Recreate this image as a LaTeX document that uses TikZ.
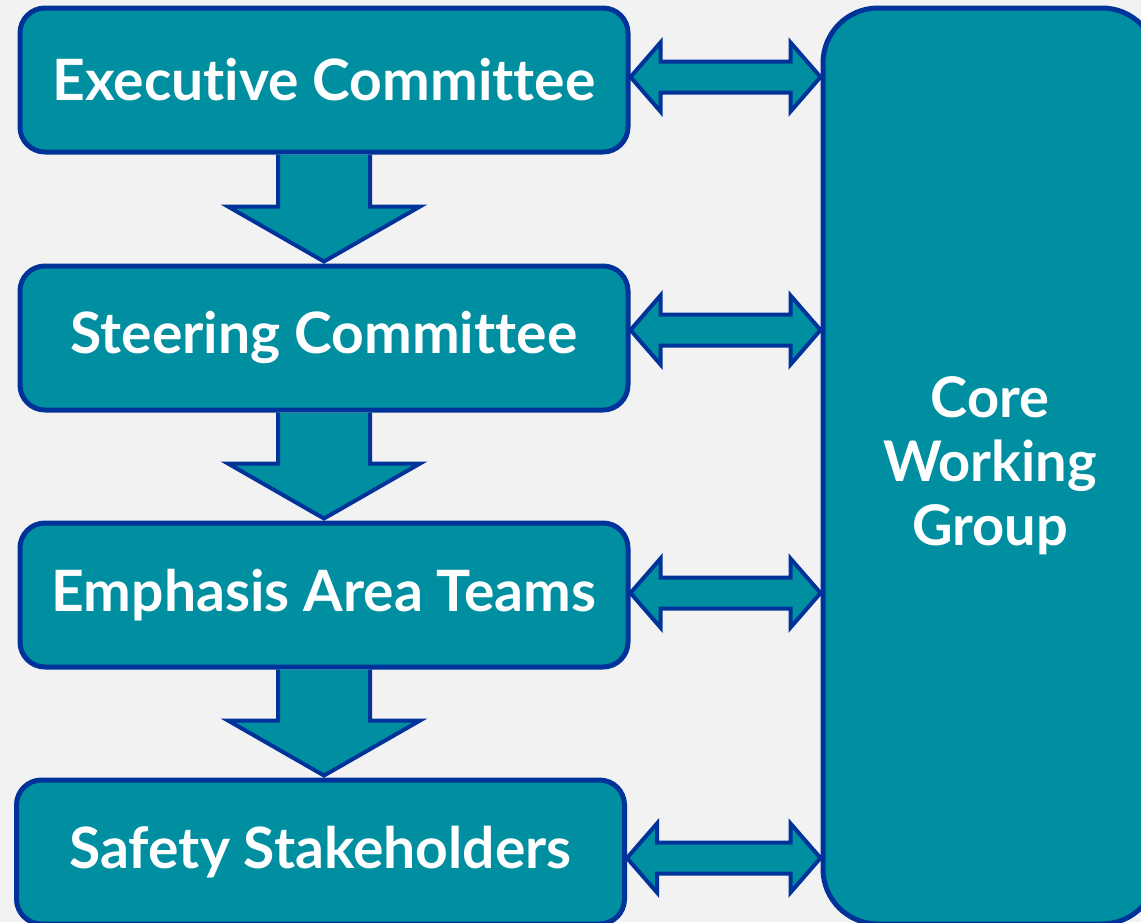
\documentclass[tikz,border=0pt]{standalone}
\usepackage{fontspec}
\setmainfont[Ligatures={NoCommon,NoRare,NoDiscretionary}]{Lato}
\usetikzlibrary{calc}
\definecolor{teal1}{RGB}{0,143,160}
\definecolor{navy1}{RGB}{0,51,153}
\definecolor{bg}{RGB}{242,242,242}
\tikzset{
  box/.style={draw=navy1, fill=teal1, line width=5pt, rounded corners=25pt,
    minimum width=608pt, minimum height=144pt, inner sep=0pt,
    text=white, font=\fontsize{57}{63}\selectfont\bfseries},
  corebox/.style={draw=navy1, fill=teal1, line width=5pt, rounded corners=55pt,
    minimum width=334pt, minimum height=916pt, inner sep=0pt, align=center,
    text=white, font=\fontsize{56}{64}\selectfont\bfseries},
  arr/.style={draw=navy1, fill=teal1, line width=4pt, line join=miter}
}
\begin{document}
\begin{tikzpicture}[x=1pt,y=-1pt]
\useasboundingbox (0,0) rectangle (1141,922);
\fill[bg] (0,0) rectangle (1141,922);
\node[box] (e1) at (324,80) {Executive Committee};
\node[box] (e2) at (324,338) {Steering Committee};
\node[box] (e3) at (324,595) {Emphasis Area Teams};
\node[box] (e4) at (320.5,852) {Safety Stakeholders};
\node[corebox] (core) at (990,466) {Core\\Working\\Group};
% down arrows
\foreach \a/\b in {e1/e2,e2/e3,e3/e4}{
  \path (\a.south) coordinate (T) (\b.north -| \a.south) coordinate (B);
  \draw[arr] ($(T)+(-46,0)$) -- ($(B)+(-46,-57)$) -- ($(B)+(-96,-57)$) -- ($(B)+(0,-2)$)
    -- ($(B)+(96,-57)$) -- ($(B)+(46,-57)$) -- ($(T)+(46,0)$);
}
% double arrows
\foreach \a/\dy in {e1/-3,e2/-8,e3/-2,e4/6}{
  \path ($(\a.east)+(0,\dy)$) coordinate (L) (core.west |- L) coordinate (R);
  \draw[arr] (L) -- ++(30,-34.5) -- ++(0,19) -- ($(R)+(-30,-15.5)$) -- ++(0,-19) -- (R)
    -- ++(-30,34.5) -- ++(0,-19) -- ($(L)+(30,15.5)$) -- ++(0,19) -- cycle;
}
\end{tikzpicture}
\end{document}
